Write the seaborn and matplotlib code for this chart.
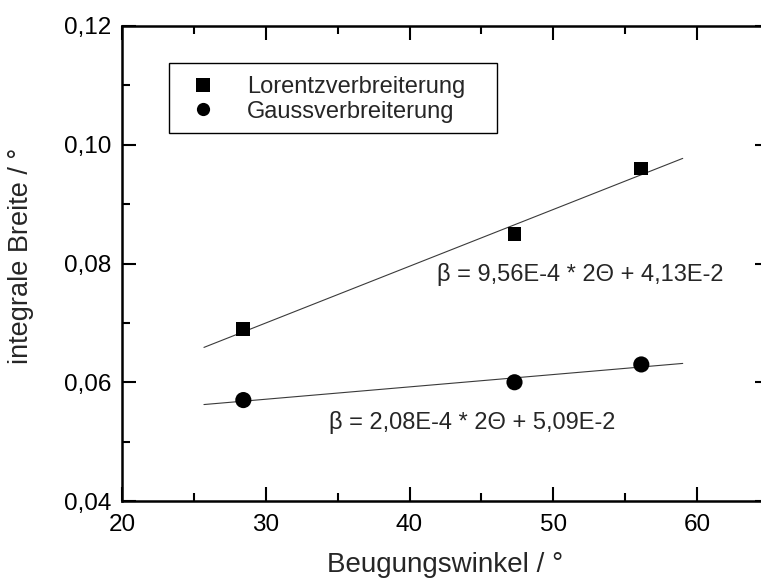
import matplotlib
matplotlib.use("Agg")
import matplotlib.pyplot as plt
from matplotlib.patches import Rectangle
from matplotlib.ticker import FuncFormatter, MultipleLocator
import numpy as np
import pandas as pd
import seaborn as sns

# Measured reflections: diffraction angle 2Θ (°) and integral breadth (°)
angles = [28.44, 47.30, 56.12]
lorentz_width = [0.069, 0.085, 0.096]
gauss_width = [0.057, 0.060, 0.063]
series_names = ["Lorentzverbreiterung", "Gaussverbreiterung"]

# Linear fits β = m * 2Θ + b, drawn over this 2Θ range
fit_range = [25.7, 59.0]
lorentz_fit = (9.56e-4, 4.13e-2)
gauss_fit = (2.08e-4, 5.09e-2)
fit_labels = ["β = 9,56E-4 * 2Θ + 4,13E-2", "β = 2,08E-4 * 2Θ + 5,09E-2"]

sns.set_style("ticks")
plt.rcParams["font.family"] = ["Liberation Sans", "DejaVu Sans"]

fig = plt.figure(figsize=(7.61, 5.79), dpi=100)
ax = fig.add_axes([0.1603, 0.1347, 0.8502, 0.8204])

points = pd.DataFrame({
    "angle": angles * 2,
    "width": lorentz_width + gauss_width,
    "series": [series_names[0]] * 3 + [series_names[1]] * 3,
})

for slope, icpt in (lorentz_fit, gauss_fit):
    xs = np.array(fit_range)
    sns.lineplot(x=xs, y=slope * xs + icpt, ax=ax, color="#3a3a3a",
                 linewidth=0.8, legend=False)

sns.scatterplot(data=points, x="angle", y="width",
                style="series", size="series",
                markers={series_names[0]: "s", series_names[1]: "o"},
                sizes={series_names[0]: 100, series_names[1]: 135},
                color="black", edgecolor="none", linewidth=0, ax=ax, zorder=3)

ax.set_xlim(20, 65)
ax.set_ylim(0.04, 0.12)
ax.xaxis.set_major_locator(MultipleLocator(10))
ax.xaxis.set_minor_locator(MultipleLocator(5))
ax.yaxis.set_major_locator(MultipleLocator(0.02))
ax.yaxis.set_minor_locator(MultipleLocator(0.01))
ax.xaxis.set_major_formatter(FuncFormatter(lambda v, p: f"{v:.0f}"))
ax.yaxis.set_major_formatter(FuncFormatter(lambda v, p: f"{v:.2f}".replace(".", ",")))

ax.tick_params(which="both", direction="in", top=True, right=True,
               width=1.5, labelsize=17.5, colors="black")
ax.tick_params(axis="x", pad=9)
ax.tick_params(axis="y", pad=8)
ax.tick_params(which="major", length=10)
ax.tick_params(which="minor", length=6)
for sp in ax.spines.values():
    sp.set_linewidth(1.8)
    sp.set_color("black")
    sp.set_visible(True)

ax.set_xlabel("Beugungswinkel / °", fontsize=20, labelpad=12)
ax.set_ylabel("integrale Breite / °", fontsize=19.5)
ax.yaxis.set_label_coords(-0.136, 0.517)

ax.text(41.93, 0.07705, fit_labels[0], fontsize=17, va="baseline")
ax.text(34.43, 0.05213, fit_labels[1], fontsize=17, va="baseline")

# Legend entries with a plain rectangular frame
handles, labels = ax.get_legend_handles_labels()
for h in handles:
    if hasattr(h, "set_markersize"):
        h.set_markersize(9.5)
    else:
        h.set_sizes([90])
leg = ax.legend(handles, labels, loc="upper left",
                bbox_to_anchor=(0.1066, 0.895), borderaxespad=0, borderpad=0,
                fontsize=17, frameon=False, handletextpad=1.37,
                labelspacing=0.12, handlelength=1.0)
ax.add_patch(Rectangle((0.0726, 0.7747), 0.507, 0.1474, transform=ax.transAxes,
                       fill=False, edgecolor="black", linewidth=1.0, zorder=4))

fig.savefig("out.png", dpi=100)
